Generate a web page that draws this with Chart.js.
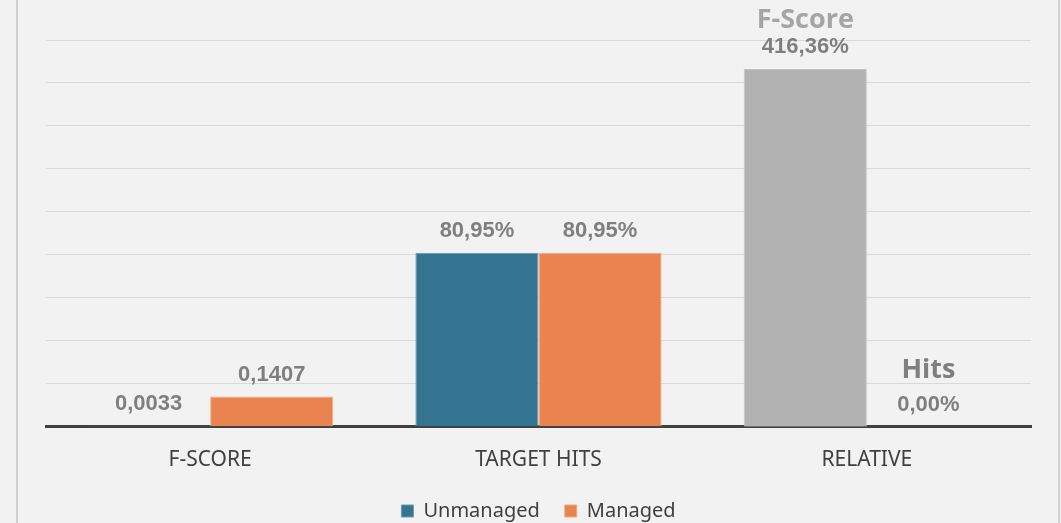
<!DOCTYPE html>
<html>
<head>
<meta charset="utf-8">
<script src="https://cdn.jsdelivr.net/npm/chart.js@4"></script>
<style>
  html, body { margin: 0; padding: 0; background: #f2f2f2; overflow: hidden; }
  #wrap { position: relative; width: 1061px; height: 531px; }
  #frame { position: absolute; left: 16px; top: -3px; width: 1040px; height: 540px;
           border-left: 2px solid #d0d0d0; border-right: 2px solid #d0d0d0; }
</style>
</head>
<body>
<div id="wrap">
  <div id="frame"></div>
  <canvas id="chart"></canvas>
</div>
<script>
const categories = ["F-SCORE", "TARGET HITS", "RELATIVE"];
const unmanaged = [0.0033, 0.8095, null];
const managed = [0.1407, 0.8095, null];
const relativeFScore = [null, null, 4.1636];
const relativeHits = [null, null, 0.0];

function fmt(v, i) {
  if (i === 0) return v.toFixed(4).replace(".", ",");
  return (v * 100).toFixed(2).replace(".", ",") + "%";
}

const labelPlugin = {
  id: "valueLabels",
  afterDatasetsDraw(chart) {
    const ctx = chart.ctx;
    ctx.save();
    ctx.textAlign = "center";
    ctx.textBaseline = "middle";
    chart.data.datasets.forEach((ds, di) => {
      const meta = chart.getDatasetMeta(di);
      meta.data.forEach((bar, i) => {
        const v = ds.data[i];
        if (v === null) return;
        ctx.font = "bold 22px 'Liberation Sans', Arial, sans-serif";
        ctx.fillStyle = "#7f7f7f";
        ctx.fillText(fmt(v, i), bar.x, bar.y - 22);
        if (ds.title) {
          ctx.font = "bold 27px 'Open Sans', sans-serif";
          ctx.fillStyle = ds.titleColor;
          ctx.fillText(ds.title, bar.x, bar.y - 22 - ds.titleGap);
        }
      });
    });
    ctx.restore();
  }
};

new Chart(document.getElementById("chart"), {
  type: "bar",
  data: {
    labels: categories,
    datasets: [
      { label: "Unmanaged", data: unmanaged, backgroundColor: "#337591", borderColor: "#6a9bb2", borderWidth: 1, yAxisID: "y" },
      { label: "Managed", data: managed, backgroundColor: "#e9834f", borderColor: "#f3aa82", borderWidth: 1, yAxisID: "y" },
      { label: "F-Score", data: relativeFScore, backgroundColor: "#b2b2b2", borderColor: "#c4c4c4", borderWidth: 1, yAxisID: "y2",
        title: "F-Score", titleColor: "#a5a5a5", titleGap: 27 },
      { label: "Hits", data: relativeHits, backgroundColor: "#b2b2b2", borderWidth: 0, yAxisID: "y2",
        title: "Hits", titleColor: "#7f7f7f", titleGap: 34 }
    ]
  },
  options: {
    responsive: true,
    maintainAspectRatio: false,
    animation: false,
    skipNull: true,
    barPercentage: 1,
    categoryPercentage: 0.75,
    layout: { padding: { left: 46, right: 30, top: 40, bottom: 0 } },
    plugins: {
      tooltip: { enabled: false },
      legend: {
        position: "bottom",
        labels: {
          filter: item => item.datasetIndex < 2,
          boxWidth: 12,
          boxHeight: 12,
          padding: 25,
          color: "#404040",
          font: { family: "'Noto Sans', sans-serif", size: 20 }
        }
      }
    },
    scales: {
      x: {
        grid: { display: false },
        border: { display: true, color: "#404040", width: 3 },
        ticks: { color: "#404040", padding: 13, font: { family: "'Noto Sans', sans-serif", size: 21 } },
        afterFit(scale) { scale.height -= 10; }
      },
      y: {
        min: 0, max: 1.8,
        ticks: { display: false, stepSize: 0.2 },
        grid: { color: "#d9d9d9", lineWidth: 1, drawTicks: false },
        border: { display: false }
      },
      y2: {
        min: 0, max: 4.5,
        display: false
      }
    }
  },
  plugins: [labelPlugin]
});
</script>
</body>
</html>
